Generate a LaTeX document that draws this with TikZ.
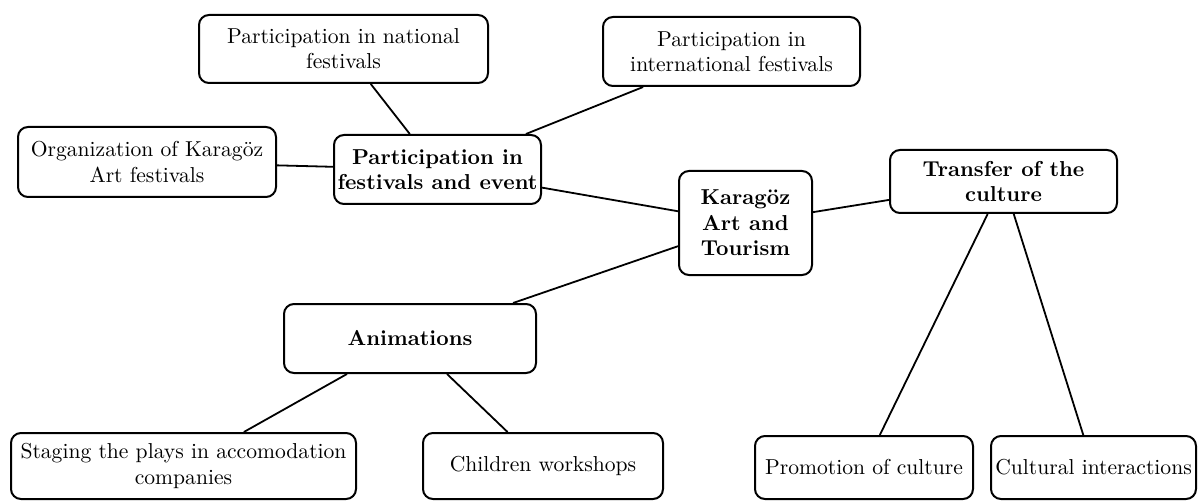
\documentclass[tikz,border=0pt]{standalone}
\usepackage{tikz}
\usetikzlibrary{positioning, shapes}

\tikzset{
	topic/.style={draw, black, rounded corners=5pt, line width=1pt, align=center, inner xsep=1pt, inner ysep=1pt, font=\fontsize{10.8}{12.6}\selectfont},
	maintopic/.style={topic, font=\fontsize{10.8}{12.7}\selectfont\bfseries},
}

\begin{document}
\begin{tikzpicture}[x=0.5pt, y=-0.5pt, line width=0.9pt]
		\useasboundingbox (0,0) rectangle (1198,502);
		
		\node[maintopic, minimum width=66.5pt, minimum height=52pt] (kar) at (745.5,223) {Karagöz\\Art and\\Tourism};
		\node[maintopic, minimum width=103.5pt, minimum height=34.5pt] (fest) at (437.5,169.5) {Participation in\\festivals and event};
		\node[maintopic, minimum width=113.5pt, minimum height=31.5pt] (trans) at (1003.5,181.5) {Transfer of the\\culture};
		\node[maintopic, minimum width=126pt, minimum height=34.5pt] (anim) at (410,338.5) {Animations};
		
		\node[topic, minimum width=144.5pt, minimum height=34pt] (nat) at (343.5,49) {Participation in national\\festivals};
		\node[topic, minimum width=128.5pt, minimum height=34.5pt] (intl) at (731.5,51.5) {Participation in\\international festivals};
		\node[topic, minimum width=129pt, minimum height=35pt] (org) at (147,162) {Organization of Karagöz\\Art festivals};
		\node[topic, minimum width=172.5pt, minimum height=33pt] (stag) at (183.5,466) {Staging the plays in accomodation\\companies};
		\node[topic, minimum width=120pt, minimum height=33pt] (child) at (543,466) {Children workshops};
		\node[topic, minimum width=109pt, minimum height=31.5pt] (promo) at (864,467.5) {Promotion of culture};
		\node[topic, minimum width=102.5pt, minimum height=31.5pt] (cult) at (1093.5,467.5) {Cultural interactions};
		
		
		\draw (fest) edge[] (nat) ;
		\draw (fest) edge[] (intl) ;
		\draw (fest) edge[] (org) ;
		\draw (kar) edge[] (fest) ;
		\draw (kar) edge[] (anim) ;
		\draw (kar) edge[] (trans) ;
		\draw (trans) edge[] (promo) ;
		\draw (trans) edge[] (cult) ;
		\draw (anim) edge[] (stag) ;
		\draw (anim) edge[] (child) ;
		
	\end{tikzpicture}
\end{document}
